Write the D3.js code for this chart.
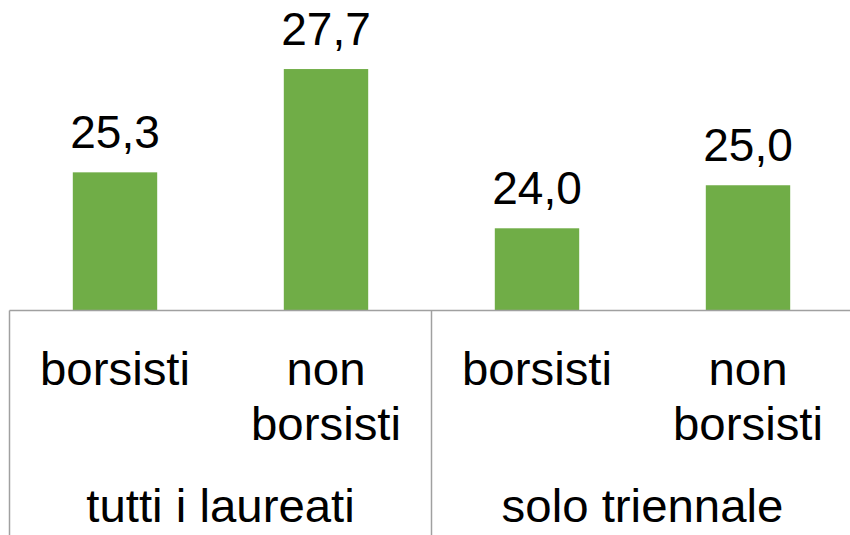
<!DOCTYPE html>
<html><head><meta charset="utf-8">
<script src="https://cdn.jsdelivr.net/npm/d3@7"></script>
<style>body{margin:0;background:#fff}svg{display:block}text{font-family:"Liberation Sans",Arial,sans-serif;fill:#000}</style>
</head><body>
<svg id="c" width="850" height="535"></svg>
<script>
const categories = ["tutti i laureati|borsisti","tutti i laureati|non borsisti","solo triennale|borsisti","solo triennale|non borsisti"];
const categoryLines = [["borsisti"],["non","borsisti"],["borsisti"],["non","borsisti"]];
const values = [25.3, 27.7, 24.0, 25.0];
const valueLabels = ["25,3","27,7","24,0","25,0"];
const groups = ["tutti i laureati","solo triennale"];
const yMin = 22.09, yMax = 30;

const svg = d3.select("#c");
const SXV = 1.0, SXC = 1.03;
const x = d3.scaleBand().domain(categories).range([9.5, 853.5]).paddingInner(0.6).paddingOuter(0.3);
const y = d3.scaleLinear().domain([yMin, yMax]).range([310.5, 310.5 - (yMax - yMin) * 43.04]);
const step = x.step(), bw = x.bandwidth();

svg.selectAll("rect.bar").data(values).enter().append("rect")
  .attr("x",(d,i)=>x(categories[i])).attr("width",bw)
  .attr("y",d=>y(d)).attr("height",d=>y(yMin)-y(d)).attr("fill","#70AD47");

svg.selectAll("text.val").data(values).enter().append("text")
  .attr("text-anchor","middle").attr("font-size",46)
  .attr("transform",(d,i)=>`translate(${x(categories[i])+bw/2},${y(d)-24}) scale(${SXV},1)`)
  .text((d,i)=>valueLabels[i]);

const r0 = x.range()[0], r1 = x.range()[1];
const lineColor = "#A0A0A0";
svg.append("line").attr("x1",r0).attr("x2",r1).attr("y1",y(yMin)).attr("y2",y(yMin)).attr("stroke",lineColor).attr("stroke-width",1.5);
const seps = [r0, x(categories[1])+bw+(step-bw)/2, r1];
svg.selectAll("line.sep").data(seps).enter().append("line")
  .attr("x1",d=>d).attr("x2",d=>d).attr("y1",y(yMin)).attr("y2",535).attr("stroke",lineColor).attr("stroke-width",1.5);

categories.forEach((c,i)=>{
  categoryLines[i].forEach((l,j)=>{
    svg.append("text").attr("text-anchor","middle").attr("font-size",46)
      .attr("transform",`translate(${x(c)+bw/2},${385+j*55}) scale(${SXC},1)`).text(l);
  });
});
groups.forEach((g,k)=>{
  const cx = (seps[k]+seps[k+1])/2;
  svg.append("text").attr("text-anchor","middle").attr("font-size",46)
    .attr("transform",`translate(${cx},522) scale(${SXC},1)`).text(g);
});
</script>
</body></html>
